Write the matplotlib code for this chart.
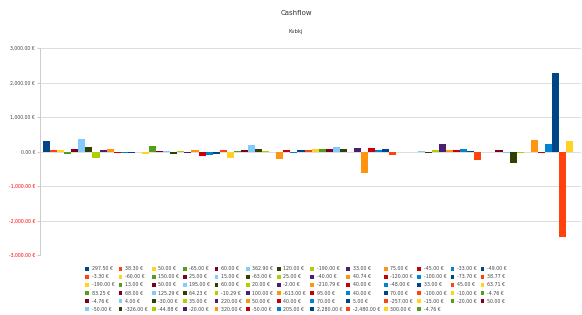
import matplotlib
matplotlib.use("Agg")
import matplotlib.pyplot as plt
from matplotlib.patches import Patch

# one bar per booking, legend label = amount
AMOUNTS = [
    297.50, 38.30, 50.00, -65.00, 60.00, 362.90, 120.00, -190.00, 33.00, 75.00, -45.00, -33.00, -49.00,
    -3.30, -60.00, 150.00, 25.00, 15.00, -63.00, 25.00, -40.00, 40.74, -120.00, -100.00, -73.70, 38.77,
    -190.00, 13.00, 50.00, 195.00, 60.00, 20.00, -2.00, -210.79, 40.00, -48.00, 33.00, 45.00, 63.71,
    83.25, 68.00, 125.29, 64.23, -10.29, 100.00, -613.00, 95.00, 40.00, 70.00, -100.00, -10.00, -4.76,
    -4.76, 4.00, -30.00, 35.00, 220.00, 50.00, 40.00, 70.00, 5.00, -257.00, -15.00, -20.00, 50.00,
    -50.00, -326.00, -44.88, -20.00, 320.00, -50.00, 205.00, 2280.00, -2480.00, 300.00, -4.76,
]
Y_TICKS = [-3000, -2000, -1000, 0, 1000, 2000, 3000]

# LibreOffice default palette
PALETTE = ["#004586", "#ff420e", "#ffd320", "#579d1c", "#7e0021", "#83caff",
           "#314004", "#aecf00", "#4b1f6f", "#ff950e", "#c5000b", "#0084d1"]


def euro(v):
    return f"{v:,.2f} €"


fig = plt.figure(figsize=(5.82, 3.15), dpi=100)
ax = fig.add_axes([40 / 582, 60 / 315, 541 / 582, 207 / 315])

colors = [PALETTE[i % len(PALETTE)] for i in range(len(AMOUNTS))]
ax.bar(range(len(AMOUNTS)), AMOUNTS, width=1.0, align="edge", color=colors, linewidth=0, zorder=3)

ax.set_ylim(-3000, 3000)
ax.set_xlim(-0.42, len(AMOUNTS) + 0.1)
ax.set_yticks(Y_TICKS)
ax.set_yticklabels([euro(t) for t in Y_TICKS])
for lab, t in zip(ax.get_yticklabels(), Y_TICKS):
    lab.set_color("#ff0000" if t < 0 else "#444444")
ax.tick_params(axis="y", labelsize=3.3, length=2, color="#cccccc", pad=1.5)
ax.set_xticks([])
ax.grid(axis="y", color="#dddddd", linewidth=0.7, zorder=0)
for side in ["top", "right", "bottom"]:
    ax.spines[side].set_visible(False)
ax.spines["left"].set_color("#cccccc")
ax.spines["left"].set_linewidth(0.7)

fig.text(296 / 582, 1 - 13 / 315, "Cashflow", ha="center", va="center", fontsize=5, color="#333333")
fig.text(296 / 582, 1 - 32 / 315, "Kvbkj", ha="center", va="center", fontsize=3.8, color="#333333")

# legend is filled row by row in the original; matplotlib fills by column, so reorder
ncol = 13
handles = [Patch(facecolor=c, edgecolor="none") for c in colors]
labels = [euro(v) for v in AMOUNTS]
order = [r * ncol + c for c in range(ncol) for r in range(6) if r * ncol + c < len(AMOUNTS)]
fig.legend([handles[i] for i in order], [labels[i] for i in order], ncol=ncol,
           loc="upper center", bbox_to_anchor=(296 / 582, 1 - 264 / 315), frameon=False,
           fontsize=3.4, handlelength=0.8, handleheight=0.8, handletextpad=0.5,
           columnspacing=0.9, labelspacing=0.65, borderpad=0, labelcolor="#444444")

fig.savefig("out.png", dpi=100)
